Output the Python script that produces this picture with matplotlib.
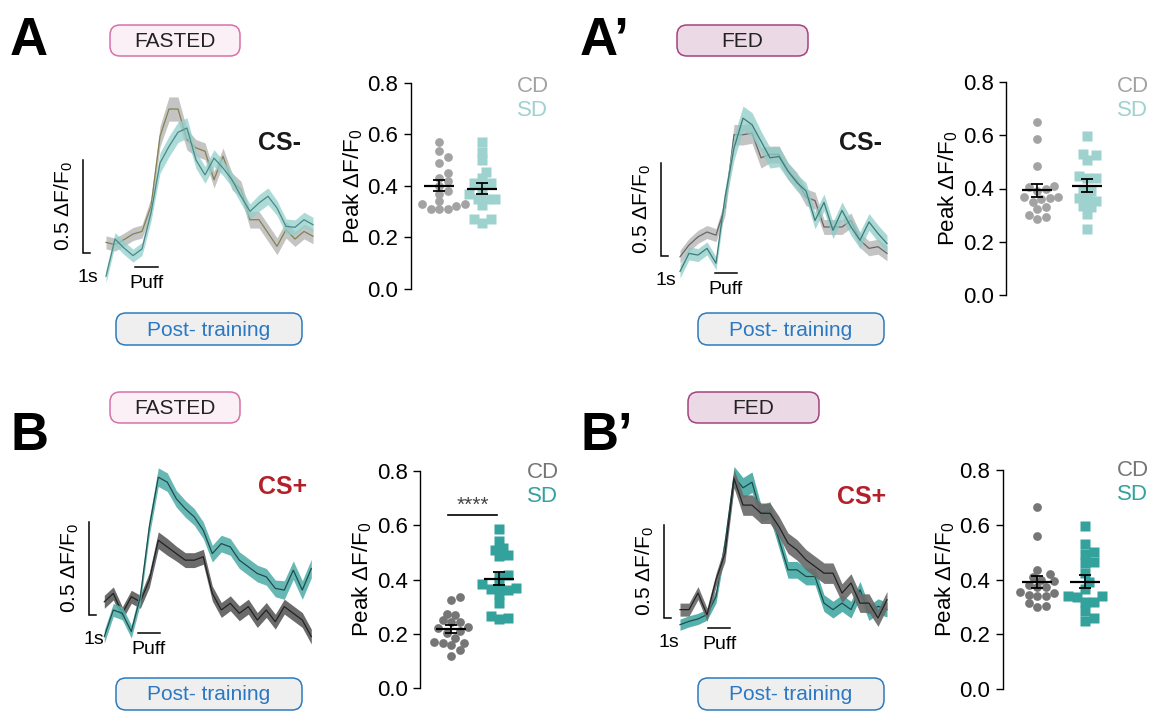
import numpy as np
import matplotlib
matplotlib.use('Agg')
import matplotlib.pyplot as plt
from matplotlib.patches import FancyBboxPatch

plt.rcParams['font.family'] = ['Liberation Sans', 'DejaVu Sans']
plt.rcParams['mathtext.fontset'] = 'custom'
plt.rcParams['mathtext.rm'] = 'Liberation Sans'
plt.rcParams['mathtext.it'] = 'Liberation Sans:italic'
plt.rcParams['mathtext.bf'] = 'Liberation Sans:bold'

W, H = 1156, 711

# mean dF/F0 traces (one value per frame) and their SEM
a_cd = [0.057, 0.045, 0.072, 0.102, 0.116, 0.251, 0.627, 0.774, 0.774, 0.609, 0.565, 0.547,
        0.394, 0.520, 0.385, 0.341, 0.179, 0.179, 0.108, 0.036, 0.125, 0.075, 0.116, 0.090]
a_cd_sem = [0.035, 0.035, 0.035, 0.035, 0.035, 0.045, 0.055, 0.065, 0.065, 0.055, 0.045, 0.045,
            0.045, 0.045, 0.045, 0.045, 0.045, 0.045, 0.045, 0.045, 0.045, 0.04, 0.04, 0.04]
a_sd = [-0.125, 0.075, 0.027, -0.014, 0.022, 0.215, 0.484, 0.573, 0.649, 0.672, 0.50, 0.42,
        0.51, 0.457, 0.394, 0.305, 0.224, 0.269, 0.305, 0.242, 0.143, 0.138, 0.179, 0.152]
a_sd_sem = [0.035, 0.035, 0.035, 0.035, 0.035, 0.045, 0.055, 0.055, 0.055, 0.055, 0.045, 0.045,
            0.045, 0.04, 0.04, 0.04, 0.04, 0.045, 0.045, 0.04, 0.04, 0.04, 0.04, 0.04]

ap_cd = [-0.004, 0.059, 0.103, 0.129, 0.112, 0.262, 0.652, 0.652, 0.661, 0.528, 0.546, 0.546,
         0.457, 0.404, 0.316, 0.298, 0.156, 0.156, 0.156, 0.191, 0.085, 0.041, 0.050, 0.014]
ap_cd_sem = [0.035, 0.035, 0.035, 0.035, 0.035, 0.045, 0.055, 0.055, 0.055, 0.055, 0.045, 0.045,
             0.045, 0.045, 0.045, 0.045, 0.04, 0.04, 0.04, 0.04, 0.04, 0.04, 0.04, 0.04]
ap_sd = [-0.083, 0.014, 0.005, 0.041, -0.039, 0.316, 0.580, 0.741, 0.706, 0.617, 0.528, 0.535,
         0.456, 0.394, 0.350, 0.191, 0.288, 0.138, 0.245, 0.156, 0.085, 0.183, 0.121, 0.067]
ap_sd_sem = [0.035, 0.035, 0.035, 0.035, 0.035, 0.045, 0.065, 0.065, 0.065, 0.055, 0.055, 0.055,
             0.045, 0.045, 0.045, 0.045, 0.045, 0.045, 0.045, 0.045, 0.045, 0.045, 0.045, 0.045]

b_cd = [0.071, 0.116, 0.009, 0.098, 0.071, 0.188, 0.402, 0.366, 0.330, 0.295, 0.295, 0.313,
        0.116, 0.027, 0.063, 0.009, 0.045, -0.027, 0.027, -0.036, 0.045, 0.009, -0.027, -0.116]
b_cd_sem = [0.035, 0.035, 0.035, 0.035, 0.035, 0.04, 0.045, 0.045, 0.04, 0.04, 0.04, 0.04,
            0.04, 0.04, 0.04, 0.04, 0.04, 0.04, 0.04, 0.04, 0.04, 0.04, 0.04, 0.04]
b_sd = [-0.116, 0.027, 0.009, -0.089, 0.098, 0.473, 0.741, 0.714, 0.625, 0.571, 0.527, 0.455,
        0.330, 0.384, 0.366, 0.295, 0.259, 0.223, 0.205, 0.143, 0.134, 0.241, 0.134, 0.250]
b_sd_sem = [0.035, 0.035, 0.035, 0.035, 0.04, 0.045, 0.05, 0.05, 0.045, 0.045, 0.045, 0.045,
            0.045, 0.045, 0.045, 0.045, 0.045, 0.045, 0.045, 0.045, 0.05, 0.05, 0.05, 0.05]

bp_cd = [0.045, 0.045, 0.134, 0.018, 0.205, 0.348, 0.750, 0.607, 0.607, 0.563, 0.563, 0.491,
         0.402, 0.366, 0.313, 0.277, 0.241, 0.241, 0.134, 0.188, 0.080, 0.080, 0.000, 0.098]
bp_cd_sem = [0.035, 0.035, 0.035, 0.035, 0.035, 0.045, 0.05, 0.055, 0.055, 0.055, 0.055, 0.055,
             0.055, 0.055, 0.055, 0.055, 0.055, 0.055, 0.05, 0.05, 0.05, 0.05, 0.045, 0.045]
bp_sd = [-0.036, -0.018, -0.005, 0.018, 0.116, 0.400, 0.760, 0.700, 0.730, 0.563, 0.580, 0.420,
         0.259, 0.259, 0.223, 0.223, 0.080, 0.045, 0.080, 0.045, 0.152, 0.027, 0.063, 0.045]
bp_sd_sem = [0.03, 0.03, 0.03, 0.03, 0.035, 0.045, 0.055, 0.055, 0.055, 0.045, 0.045, 0.045,
             0.045, 0.045, 0.045, 0.045, 0.045, 0.045, 0.045, 0.045, 0.045, 0.04, 0.04, 0.04]

# peak dF/F0 per animal
a_peak_cd = [0.57, 0.535, 0.51, 0.49, 0.45, 0.43, 0.42, 0.40, 0.38, 0.37, 0.34, 0.33,
             0.33, 0.32, 0.31, 0.31, 0.31]
a_peak_sd = [0.57, 0.53, 0.50, 0.455, 0.43, 0.41, 0.41, 0.39, 0.37, 0.35, 0.35, 0.35,
             0.325, 0.27, 0.27, 0.255]
ap_peak_cd = [0.65, 0.585, 0.485, 0.41, 0.405, 0.40, 0.39, 0.37, 0.37, 0.365, 0.36, 0.35,
              0.33, 0.325, 0.30, 0.295, 0.285]
ap_peak_sd = [0.595, 0.53, 0.525, 0.505, 0.445, 0.44, 0.44, 0.395, 0.39, 0.365, 0.365,
              0.355, 0.335, 0.33, 0.305, 0.25]
b_peak_cd = [0.335, 0.325, 0.275, 0.27, 0.25, 0.245, 0.245, 0.225, 0.22, 0.21, 0.205,
             0.185, 0.17, 0.165, 0.165, 0.16, 0.14, 0.12]
b_peak_sd = [0.585, 0.54, 0.515, 0.51, 0.49, 0.485, 0.415, 0.41, 0.385, 0.375, 0.37,
             0.365, 0.36, 0.345, 0.315, 0.265, 0.26, 0.255]
bp_peak_cd = [0.665, 0.56, 0.435, 0.42, 0.41, 0.40, 0.395, 0.38, 0.375, 0.375, 0.355,
              0.35, 0.345, 0.34, 0.34, 0.315, 0.305, 0.30]
bp_peak_sd = [0.595, 0.53, 0.50, 0.495, 0.465, 0.46, 0.425, 0.39, 0.365, 0.34, 0.34,
              0.335, 0.32, 0.32, 0.285, 0.26, 0.25]

groups = ['CD', 'SD']

fig = plt.figure(figsize=(W / 100, H / 100), dpi=100)


def rect(left, top, width, height):
    return [left / W, 1 - (top + height) / H, width / W, height / H]


def ftext(x, y, s, **kw):
    fig.text(x / W, 1 - y / H, s, **kw)


def label_box(x0, y0, x1, y1, s, fc, ec, tc):
    box = FancyBboxPatch((x0 / 100, (H - y1) / 100), (x1 - x0) / 100, (y1 - y0) / 100,
                         boxstyle='round,pad=0,rounding_size=0.1',
                         transform=fig.dpi_scale_trans, fc=fc, ec=ec, lw=1.1)
    fig.add_artist(box)
    ftext((x0 + x1) / 2, (y0 + y1) / 2 + 1, s, ha='center', va='center', color=tc, fontsize=15)


FRAME_PX = 9.0
UNIT_PX = 186.0
XLIM = (-7.0, 24.5)
YLIM = (-0.3, 0.95)


def trace_panel(x0, yb, cd, cd_sem, sd, sd_sem, col, gray_on_top, sb_x, puff, puff_y, cs, cs_col, cs_xy):
    ax = fig.add_axes(rect(x0 + XLIM[0] * FRAME_PX, yb - YLIM[1] * UNIT_PX,
                           (XLIM[1] - XLIM[0]) * FRAME_PX, (YLIM[1] - YLIM[0]) * UNIT_PX))
    ax.set_xlim(*XLIM)
    ax.set_ylim(*YLIM)
    ax.axis('off')
    t = np.arange(len(cd))
    cd, cd_sem, sd, sd_sem = map(np.array, (cd, cd_sem, sd, sd_sem))
    z_cd = 3 if gray_on_top else 1
    z_sd = 1 if gray_on_top else 3
    ax.fill_between(t, cd - cd_sem, cd + cd_sem, color=col['cd_band'], alpha=col['cd_a'], lw=0, zorder=z_cd)
    ax.plot(t, cd, color=col['cd_line'], lw=0.9, zorder=z_cd + 0.5)
    ax.fill_between(t, sd - sd_sem, sd + sd_sem, color=col['sd_band'], alpha=col['sd_a'], lw=0, zorder=z_sd)
    ax.plot(t, sd, color=col['sd_line'], lw=0.9, zorder=z_sd + 0.5)
    # scale bars
    ax.plot([sb_x, sb_x, sb_x + 0.8], [0.5, 0, 0], color='k', lw=1.1, solid_joinstyle='miter')
    ax.text(sb_x + 0.55, -0.13, '1s', ha='center', va='center', fontsize=14)
    ax.text(sb_x - 2.15, 0.25, '0.5 ΔF/F$_0$', rotation=90, ha='center', va='center', fontsize=15)
    ax.plot(puff, [puff_y, puff_y], color='k', lw=1.1)
    ax.text(np.mean(puff), puff_y - 0.09, 'Puff', ha='center', va='center', fontsize=14)
    ax.text(cs_xy[0], cs_xy[1], cs, ha='center', va='center', fontsize=18,
            fontweight='bold', color=cs_col)
    return ax


def swarm(values, x_unit, y_unit, diam):
    vals = np.array(values)
    offs = np.zeros(len(vals))
    placed = []
    for idx in np.argsort(vals):
        y = vals[idx] * y_unit
        for k in range(60):
            cand = ((k + 1) // 2) * (1 if k % 2 else -1) * diam * 0.5
            if all((cand - px) ** 2 + (y - py) ** 2 >= diam ** 2 * 0.8 for px, py in placed):
                break
        placed.append((cand, y))
        offs[idx] = cand / x_unit
    return offs


def scatter_panel(left, top, bottom, cd_off, unit, cd_vals, sd_vals, cd_col, sd_col, leg_x, leg_y, sig=False):
    width = 120
    height = bottom - top
    ax = fig.add_axes(rect(left, top, width, height))
    ax.set_ylim(0, 0.8)
    ax.set_xlim(-cd_off / unit, (width - cd_off) / unit)
    y_unit = height / 0.8
    for i, (vals, c, m) in enumerate([(cd_vals, cd_col, 'o'), (sd_vals, sd_col, 's')]):
        x = i + swarm(vals, unit, y_unit, 8.5)
        ax.plot(x, vals, ls='none', marker=m, ms=6.3 if m == 'o' else 6.6, mfc=c, mec='none',
                clip_on=False, zorder=2)
        mean = np.mean(vals)
        sem = np.std(vals, ddof=1) / np.sqrt(len(vals))
        hw = 15.0 / unit
        ax.hlines(mean, i - hw, i + hw, color='k', lw=1.6, zorder=5)
        ax.errorbar([i], [mean], yerr=[sem], fmt='none', ecolor='k', elinewidth=1.2,
                    capsize=4.5, capthick=1.3, zorder=5)
    if sig:
        ax.plot([-0.06, 0.96], [0.637, 0.637], color='k', lw=1.2)
        ax.text(0.45, 0.672, '****', ha='center', va='center', fontsize=15, color='#444444')
    for s in ['top', 'right', 'bottom']:
        ax.spines[s].set_visible(False)
    ax.spines['left'].set_linewidth(1.0)
    ax.set_xticks([])
    ax.set_yticks(np.arange(0, 0.81, 0.2))
    ax.set_yticklabels(['%.1f' % v for v in np.arange(0, 0.81, 0.2)])
    ax.tick_params(axis='y', length=5, width=1, labelsize=16, pad=4)
    ax.set_ylabel('Peak ΔF/F$_0$', fontsize=16, labelpad=2)
    ftext(leg_x, leg_y, groups[0], color=cd_col, fontsize=16, va='center')
    ftext(leg_x, leg_y + 24, groups[1], color=sd_col, fontsize=16, va='center')
    return ax


light = dict(cd_band='#c4c4c4', cd_a=1.0, cd_line='#85814f',
             sd_band='#92cfcb', sd_a=0.75, sd_line='#4b8886')
light2 = dict(cd_band='#c4c4c4', cd_a=1.0, cd_line='#666666',
              sd_band='#8ccbc7', sd_a=0.75, sd_line='#3d7c79')
dark = dict(cd_band='#6b6b6b', cd_a=1.0, cd_line='#222222',
            sd_band='#56b1ac', sd_a=0.9, sd_line='#1e4d4b')
dark2 = dict(cd_band='#6b6b6b', cd_a=0.92, cd_line='#222222',
             sd_band='#56b1ac', sd_a=1.0, sd_line='#1e4d4b')

# panel A / A' (CS-)
trace_panel(106, 253, a_cd, a_cd_sem, a_sd, a_sd_sem, light, False, -2.56, (3.2, 5.8), -0.075,
            'CS-', '#1a1a1a', (19.3, 0.59))
trace_panel(680, 256, ap_cd, ap_cd_sem, ap_sd, ap_sd_sem, light2, False, -2.1, (3.9, 6.3), -0.09,
            'CS-', '#1a1a1a', (20.0, 0.61))
# panel B / B' (CS+)
trace_panel(104.3, 615, b_cd, b_cd_sem, b_sd, b_sd_sem, dark, False, -1.7, (3.7, 6.2), -0.095,
            'CS+', '#b3202a', (19.8, 0.69))
trace_panel(680, 618, bp_cd, bp_cd_sem, bp_sd, bp_sd_sem, dark2, True, -1.78, (3.1, 5.6), -0.055,
            'CS+', '#b3202a', (20.2, 0.65))

scatter_panel(411, 82.7, 289, 28, 43, a_peak_cd, a_peak_sd, '#a3a3a3', '#9ed2cf', 517, 86)
scatter_panel(1006, 81.7, 295.3, 31, 50, ap_peak_cd, ap_peak_sd, '#a3a3a3', '#9ed2cf', 1117, 86)
scatter_panel(420, 470.7, 688.3, 31, 48, b_peak_cd, b_peak_sd, '#767676', '#33a19c', 527, 472, sig=True)
scatter_panel(1003, 470, 689.3, 34, 48, bp_peak_cd, bp_peak_sd, '#767676', '#33a19c', 1117, 471)

# condition boxes
label_box(110, 25, 240, 56, 'FASTED', '#fbf0f5', '#d870aa', '#222222')
label_box(677, 25, 808, 56, 'FED', '#ebd9e6', '#a4427e', '#222222')
label_box(110, 392, 240, 423, 'FASTED', '#fbf0f5', '#d870aa', '#222222')
label_box(688, 392, 819, 423, 'FED', '#ebd9e6', '#a4427e', '#222222')
for bx, by in [(116, 313), (698, 313), (116, 678), (698, 678)]:
    label_box(bx, by, bx + 186, by + 32, 'Post- training', '#efefef', '#2b7bbf', '#2a78c4')

# panel letters
for s, x, y in [('A', 10, 55), ('A\u2019', 580, 55), ('B', 10, 450), ('B\u2019', 580, 450)]:
    ftext(x, y, s, fontsize=38, fontweight='bold', va='baseline')

plt.savefig('out.png', dpi=100)
